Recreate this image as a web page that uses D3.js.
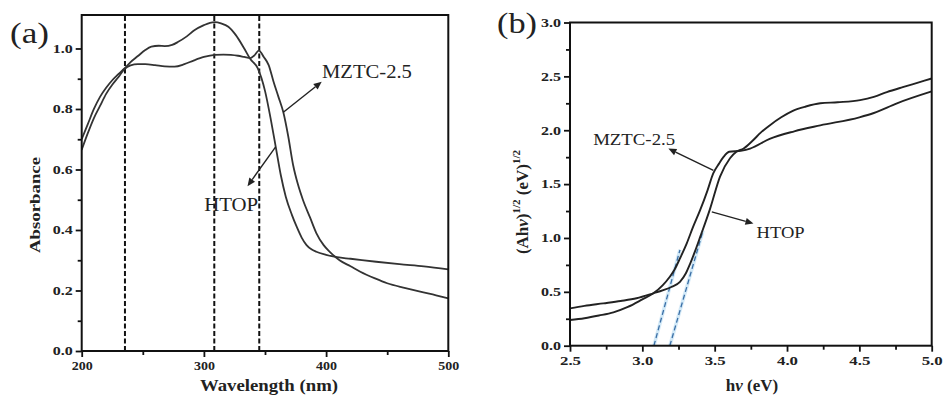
<!DOCTYPE html>
<html>
<head>
<meta charset="utf-8">
<script src="https://cdn.jsdelivr.net/npm/d3@7/dist/d3.min.js"></script>
<style>
  html, body { margin: 0; padding: 0; background: #fff; }
  svg { display: block; }
  text { font-family: "Liberation Serif", Tinos, "Times New Roman", Times, serif; fill: #222; }
</style>
</head>
<body>
<svg id="chart" width="943" height="396"></svg>
<script>
// ---------- Panel (a): UV-vis absorbance ----------
const wlHTOP  = [200, 205, 210, 215, 220, 225, 230, 235, 240, 246, 252, 257, 263, 268, 274, 279, 286, 292.5, 300, 305, 309, 314, 320, 326, 333, 338, 344, 350, 355, 359, 363, 367, 372, 376, 380, 384, 388, 392, 400, 409, 420, 441, 460, 480, 500];
const absHTOP = [0.70, 0.75, 0.80, 0.84, 0.87, 0.895, 0.915, 0.934, 0.955, 0.975, 0.995, 1.006, 1.009, 1.008, 1.012, 1.022, 1.04, 1.061, 1.077, 1.085, 1.087, 1.083, 1.072, 1.045, 1.0, 0.965, 0.935, 0.86, 0.76, 0.67, 0.58, 0.51, 0.45, 0.41, 0.375, 0.35, 0.336, 0.328, 0.318, 0.31, 0.305, 0.295, 0.287, 0.28, 0.27];

const wlMZTC  = [200, 205, 210, 215, 220, 225, 230, 235, 240, 246, 252, 260, 268, 276, 284, 292, 300, 309, 316, 322, 328, 333, 338, 341, 345, 349, 353, 357, 361, 365, 369, 373, 377, 381, 387, 392, 398, 403, 411, 420, 428, 440, 450, 465, 477, 490, 500];
const absMZTC = [0.665, 0.72, 0.77, 0.81, 0.85, 0.88, 0.905, 0.932, 0.944, 0.948, 0.948, 0.945, 0.941, 0.940, 0.948, 0.961, 0.972, 0.979, 0.98, 0.979, 0.976, 0.972, 0.968, 0.976, 0.993, 0.972, 0.945, 0.89, 0.84, 0.789, 0.71, 0.615, 0.55, 0.50, 0.44, 0.39, 0.35, 0.328, 0.30, 0.28, 0.262, 0.24, 0.224, 0.208, 0.196, 0.184, 0.174];

const dashWl = [235.4, 308.5, 345.3];

const aXTicks = [200, 300, 400, 500];
const aXMinor = [250, 350, 450];
const aYTicks = [0.0, 0.2, 0.4, 0.6, 0.8, 1.0];
const aYMinor = [0.1, 0.3, 0.5, 0.7, 0.9];

// arrows: [x0, y0, x1, y1] in data units (tail on curve -> head at label)
const aArrowMZTC = [365, 0.789, 396.4, 0.89];
const aArrowHTOP = [358.7, 0.675, 335.7, 0.545];
const aLabelMZTC = [396.6, 0.902];
const aLabelHTOP = [300.2, 0.464];

// ---------- Panel (b): Tauc plot ----------
const evHTOP  = [2.5, 2.6, 2.73, 2.85, 2.96, 3.076, 3.145, 3.2, 3.26, 3.30, 3.33, 3.365, 3.40, 3.468, 3.537, 3.606, 3.65, 3.70, 3.76, 3.82, 3.88, 3.96, 4.04, 4.13, 4.23, 4.35, 4.505, 4.6, 4.69, 4.8, 4.9, 5.0];
const tauHTOP = [0.347, 0.37, 0.393, 0.415, 0.44, 0.486, 0.516, 0.545, 0.593, 0.67, 0.76, 0.88, 1.01, 1.27, 1.57, 1.74, 1.80, 1.83, 1.90, 1.98, 2.045, 2.12, 2.18, 2.22, 2.25, 2.26, 2.28, 2.31, 2.354, 2.40, 2.44, 2.48];

const evMZTC  = [2.5, 2.6, 2.7, 2.8, 2.9, 3.0, 3.076, 3.14, 3.19, 3.22, 3.26, 3.307, 3.35, 3.40, 3.45, 3.49, 3.53, 3.56, 3.6, 3.68, 3.745, 3.88, 4.05, 4.23, 4.5, 4.6, 4.76, 5.0];
const tauMZTC = [0.238, 0.255, 0.28, 0.31, 0.36, 0.43, 0.486, 0.56, 0.64, 0.70, 0.81, 0.95, 1.10, 1.26, 1.44, 1.60, 1.69, 1.75, 1.80, 1.81, 1.83, 1.92, 1.99, 2.045, 2.12, 2.16, 2.25, 2.36];

const tanEv  = [[3.08, 3.26], [3.19, 3.42]];
const tanVal = [[0, 0.89], [0, 1.07]];

const bXTicks = [2.5, 3.0, 3.5, 4.0, 4.5, 5.0];
const bXMinor = [2.75, 3.25, 3.75, 4.25, 4.75];
const bYTicks = [0.0, 0.5, 1.0, 1.5, 2.0, 2.5, 3.0];
const bYMinor = [0.25, 0.75, 1.25, 1.75, 2.25, 2.75];

const bArrowMZTC = [3.491, 1.628, 3.18, 1.83];
const bArrowHTOP = [3.48, 1.242, 3.768, 1.134];
const bLabelMZTC = [2.66, 1.86];
const bLabelHTOP = [3.79, 0.998];

// ---------- drawing ----------
const svg = d3.select("#chart");
const curveColor = "#333";

function arrow(g, x, y, a, color) {
  const x0 = x(a[0]), y0 = y(a[1]), x1 = x(a[2]), y1 = y(a[3]);
  const ang = Math.atan2(y1 - y0, x1 - x0);
  const L = 8, W = 3.5;
  const bx = x1 - L * Math.cos(ang), by = y1 - L * Math.sin(ang);
  g.append("line").attr("x1", x0).attr("y1", y0).attr("x2", bx).attr("y2", by)
    .attr("stroke", color).attr("stroke-width", 1.4);
  const p = [
    [x1, y1],
    [bx + W * Math.sin(ang), by - W * Math.cos(ang)],
    [bx - W * Math.sin(ang), by + W * Math.cos(ang)]
  ];
  g.append("path").attr("d", "M" + p.map(d => d.join(",")).join("L") + "Z").attr("fill", color);
}

function axes(g, x, y, xt, xm, yt, ym, xFmt, yFmt, xLabW, yLabW) {
  const [xl, xr] = x.range(), [yb, ytop] = y.range();
  const ax = g.append("g").attr("transform", `translate(0,${yb})`)
    .call(d3.axisBottom(x).tickValues(xt).tickSize(6).tickSizeOuter(0).tickPadding(4).tickFormat(xFmt));
  g.append("g").attr("transform", `translate(0,${yb})`)
    .call(d3.axisBottom(x).tickValues(xm).tickSize(4).tickSizeOuter(0).tickFormat(""));
  const ay = g.append("g").attr("transform", `translate(${xl},0)`)
    .call(d3.axisLeft(y).tickValues(yt).tickSize(6).tickSizeOuter(0).tickPadding(3).tickFormat(yFmt));
  g.append("g").attr("transform", `translate(${xl},0)`)
    .call(d3.axisLeft(y).tickValues(ym).tickSize(4).tickSizeOuter(0).tickFormat(""));
  g.selectAll(".domain").remove();
  g.selectAll(".tick line").attr("stroke", "#111").attr("stroke-width", 1.8);
  ax.selectAll("text").attr("font-size", 13).attr("font-weight", "bold").attr("fill", "#222")
    .attr("textLength", xLabW).attr("lengthAdjust", "spacingAndGlyphs");
  ay.selectAll("text").attr("font-size", 12).attr("font-weight", "bold").attr("fill", "#222")
    .attr("textLength", yLabW).attr("lengthAdjust", "spacingAndGlyphs");
  g.append("rect").attr("x", xl).attr("y", ytop).attr("width", xr - xl).attr("height", yb - ytop)
    .attr("fill", "none").attr("stroke", "#111").attr("stroke-width", 2);
}

// ----- Panel (a)
{
  const x = d3.scaleLinear().domain([200, 500]).range([81.7, 448.3]);
  const y = d3.scaleLinear().domain([0, 1.1107]).range([351, 15]);
  const g = svg.append("g");

  dashWl.forEach(w => {
    g.append("line").attr("x1", x(w)).attr("x2", x(w)).attr("y1", y(0)).attr("y2", y(1.1107))
      .attr("stroke", "#111").attr("stroke-width", 2).attr("stroke-dasharray", "5,2.5");
  });

  const line = d3.line().x(d => x(d[0])).y(d => y(d[1])).curve(d3.curveMonotoneX);
  g.append("path").datum(wlHTOP.map((w, i) => [w, absHTOP[i]])).attr("d", line)
    .attr("fill", "none").attr("stroke", curveColor).attr("stroke-width", 1.8);
  g.append("path").datum(wlMZTC.map((w, i) => [w, absMZTC[i]])).attr("d", line)
    .attr("fill", "none").attr("stroke", curveColor).attr("stroke-width", 1.8);

  axes(g, x, y, aXTicks, aXMinor, aYTicks, aYMinor, d3.format(".0f"), d3.format(".1f"), 21, 20);

  arrow(g, x, y, aArrowMZTC, "#222");
  arrow(g, x, y, aArrowHTOP, "#222");
  g.append("text").attr("x", x(aLabelMZTC[0])).attr("y", y(aLabelMZTC[1])).text("MZTC-2.5")
    .attr("font-size", 19).attr("textLength", 90).attr("lengthAdjust", "spacingAndGlyphs");
  g.append("text").attr("x", x(aLabelHTOP[0])).attr("y", y(aLabelHTOP[1])).text("HTOP")
    .attr("font-size", 19).attr("textLength", 54).attr("lengthAdjust", "spacingAndGlyphs");

  g.append("text").attr("x", 269).attr("y", 391).attr("text-anchor", "middle")
    .attr("font-size", 17).attr("font-weight", "bold").text("Wavelength (nm)")
    .attr("textLength", 138).attr("lengthAdjust", "spacingAndGlyphs");
  g.append("text").attr("transform", "translate(40,205) rotate(-90)").attr("text-anchor", "middle")
    .attr("font-size", 15).attr("font-weight", "bold").text("Absorbance")
    .attr("textLength", 96).attr("lengthAdjust", "spacingAndGlyphs");
  g.append("text").attr("x", 10).attr("y", 43).attr("font-size", 30).text("(a)")
    .attr("textLength", 39).attr("lengthAdjust", "spacingAndGlyphs");
}

// ----- Panel (b)
{
  const x = d3.scaleLinear().domain([2.5, 5.0]).range([570, 931.7]);
  const y = d3.scaleLinear().domain([0, 3.0]).range([345.7, 22.5]);
  const g = svg.append("g");

  tanEv.forEach((e, i) => {
    g.append("line").attr("x1", x(e[0])).attr("y1", y(tanVal[i][0])).attr("x2", x(e[1])).attr("y2", y(tanVal[i][1]))
      .attr("stroke", "#bfe0f5").attr("stroke-width", 3.5).attr("opacity", 0.7);
    g.append("line").attr("x1", x(e[0])).attr("y1", y(tanVal[i][0])).attr("x2", x(e[1])).attr("y2", y(tanVal[i][1]))
      .attr("stroke", "#3b6fa6").attr("stroke-width", 1.3).attr("stroke-dasharray", "5,3");
  });

  const line = d3.line().x(d => x(d[0])).y(d => y(d[1])).curve(d3.curveMonotoneX);
  g.append("path").datum(evHTOP.map((e, i) => [e, tauHTOP[i]])).attr("d", line)
    .attr("fill", "none").attr("stroke", "#222").attr("stroke-width", 1.9);
  g.append("path").datum(evMZTC.map((e, i) => [e, tauMZTC[i]])).attr("d", line)
    .attr("fill", "none").attr("stroke", "#222").attr("stroke-width", 1.9);

  axes(g, x, y, bXTicks, bXMinor, bYTicks, bYMinor, d3.format(".1f"), d3.format(".1f"), 21, 20);

  arrow(g, x, y, bArrowMZTC, "#222");
  arrow(g, x, y, bArrowHTOP, "#222");
  g.append("text").attr("x", x(bLabelMZTC[0])).attr("y", y(bLabelMZTC[1])).text("MZTC-2.5")
    .attr("font-size", 16).attr("textLength", 82).attr("lengthAdjust", "spacingAndGlyphs");
  g.append("text").attr("x", x(bLabelHTOP[0])).attr("y", y(bLabelHTOP[1])).text("HTOP")
    .attr("font-size", 17).attr("textLength", 48).attr("lengthAdjust", "spacingAndGlyphs");

  const xt = g.append("text").attr("x", 752).attr("y", 391).attr("text-anchor", "middle")
    .attr("font-size", 17).attr("font-weight", "bold");
  xt.append("tspan").text("h");
  xt.append("tspan").attr("font-style", "italic").text("v");
  xt.append("tspan").text(" (eV)");

  const yt = g.append("text").attr("transform", "translate(528,202) rotate(-90)").attr("text-anchor", "middle")
    .attr("font-size", 17).attr("font-weight", "bold");
  yt.append("tspan").text("(Ah");
  yt.append("tspan").attr("font-style", "italic").text("v");
  yt.append("tspan").text(")");
  yt.append("tspan").attr("font-size", 11).attr("dy", -8).text("1/2");
  yt.append("tspan").attr("dy", 8).text(" (eV)");
  yt.append("tspan").attr("font-size", 11).attr("dy", -8).text("1/2");

  g.append("text").attr("x", 497).attr("y", 33).attr("font-size", 30).text("(b)")
    .attr("textLength", 40).attr("lengthAdjust", "spacingAndGlyphs");
}
</script>
</body>
</html>
